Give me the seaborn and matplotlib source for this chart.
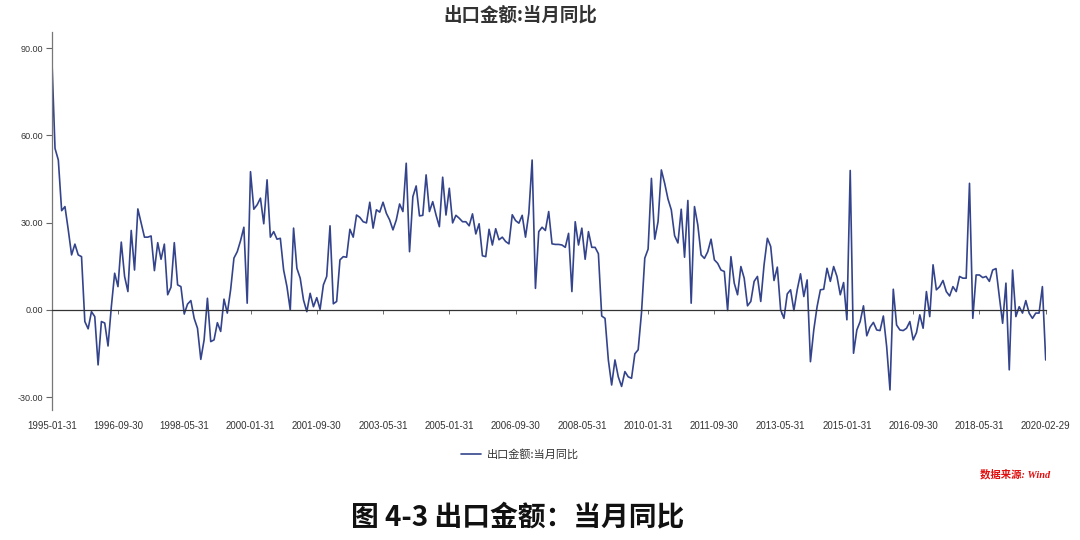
import numpy as np
import pandas as pd
import matplotlib
matplotlib.use("Agg")
import matplotlib.pyplot as plt
import seaborn as sns

# ---- data -------------------------------------------------------------
series_name = "出口金额:当月同比"
export_yoy = [
    88.0, 55.5, 51.5, 34.1, 35.5, 27.5, 18.9, 22.6, 18.9, 18.3, -4.0, -6.5,      # 1995
    -0.6, -2.3, -18.9, -4.0, -4.5, -12.4, 1.1, 12.6, 8.0, 23.3, 11.5, 6.3,      # 1996
    27.3, 13.7, 34.7, 29.9, 25.0, 25.0, 25.4, 13.5, 23.1, 17.4, 22.6, 5.2,      # 1997
    7.8, 23.1, 8.6, 8.0, -1.4, 2.0, 3.2, -2.9, -6.3, -17.0, -10.3, 4.0,        # 1998
    -10.9, -10.3, -4.4, -7.4, 3.7, -1.1, 6.9, 17.8, 20.0, 23.8, 28.4, 2.3,     # 1999
    47.5, 34.6, 36.1, 38.4, 29.6, 44.7, 25.0, 26.9, 24.3, 24.6, 13.7, 8.0,     # 2000
    0.0, 28.1, 14.3, 10.9, 3.4, -0.6, 5.7, 1.1, 4.2, 0.2, 8.6, 11.5,           # 2001
    28.9, 2.1, 2.9, 17.2, 18.3, 18.1, 27.7, 25.0, 32.6, 31.8, 30.3, 29.9,      # 2002
    37.0, 28.1, 34.4, 33.6, 37.0, 33.2, 30.9, 27.5, 30.9, 36.4, 33.8, 50.4,    # 2003
    20.0, 38.9, 42.6, 32.3, 32.5, 46.4, 33.8, 37.2, 32.6, 28.6, 45.6, 32.6,    # 2004
    41.8, 29.9, 32.5, 31.5, 30.3, 30.3, 28.9, 33.0, 26.1, 29.6, 18.6, 18.3,    # 2005
    27.7, 22.3, 27.9, 24.1, 25.0, 23.5, 22.7, 32.7, 30.7, 29.8, 32.5, 25.0,    # 2006
    33.2, 51.5, 7.4, 26.9, 28.4, 27.3, 33.8, 22.7, 22.5, 22.5, 22.3, 21.5,     # 2007
    26.3, 6.3, 30.3, 22.3, 28.1, 17.4, 26.9, 21.5, 21.5, 19.3, -2.1, -2.9,     # 2008
    -17.2, -25.8, -17.2, -23.0, -26.3, -21.2, -23.0, -23.5, -15.1, -13.7, -1.1, 17.8,  # 2009
    20.9, 45.2, 24.3, 30.3, 48.1, 43.5, 38.1, 34.4, 25.5, 23.0, 34.6, 18.1,    # 2010
    37.6, 2.3, 35.5, 29.2, 18.9, 17.7, 20.0, 24.3, 17.2, 16.0, 13.7, 13.2,     # 2011
    -0.2, 18.3, 9.2, 5.2, 14.9, 10.9, 1.4, 2.9, 9.8, 11.5, 2.9, 15.5,          # 2012
    24.6, 21.8, 10.1, 14.7, 0.0, -2.9, 5.5, 6.9, -0.2, 6.9, 12.4, 4.6,         # 2013
    10.3, -17.8, -6.9, 1.1, 6.9, 7.1, 14.3, 9.8, 14.9, 11.5, 5.2, 9.4,         # 2014
    -3.4, 47.9, -14.9, -6.9, -4.0, 1.4, -8.9, -5.9, -4.3, -6.9, -7.1, -2.1,    # 2015
    -12.6, -27.5, 7.1, -5.2, -6.9, -7.1, -6.3, -4.0, -10.3, -7.8, -1.7, -6.3,  # 2016
    6.3, -2.3, 15.5, 6.9, 8.0, 10.1, 6.3, 4.8, 8.0, 6.3, 11.5, 10.9,           # 2017
    10.9, 43.5, -2.9, 12.0, 12.0, 11.1, 11.5, 9.8, 13.7, 14.2, 4.6, -4.6,      # 2018
    9.2, -20.6, 13.7, -2.3, 1.1, -1.1, 3.2, -1.1, -2.9, -1.1, -1.1, 8.0,       # 2019
    -17.2,                                                                       # 2020-02
]
dates = list(pd.date_range("1995-01-31", "2019-12-31", freq="ME").strftime("%Y-%m-%d")) + ["2020-02-29"]
tick_labels = ["1995-01-31", "1996-09-30", "1998-05-31", "2000-01-31", "2001-09-30",
               "2003-05-31", "2005-01-31", "2006-09-30", "2008-05-31", "2010-01-31",
               "2011-09-30", "2013-05-31", "2015-01-31", "2016-09-30", "2018-05-31",
               "2020-02-29"]
y_ticks = [-30, 0, 30, 60, 90]

df = pd.DataFrame({"date": dates, "value": export_yoy})
df["idx"] = np.arange(len(df))

# ---- style ------------------------------------------------------------
sns.set_style("white")
plt.rcParams["font.family"] = ["Noto Sans CJK SC", "DejaVu Sans"]
label_font = ["Liberation Sans", "DejaVu Sans"]

W, H = 1080, 540
fig = plt.figure(figsize=(W / 100, H / 100), dpi=100)
ax_left, ax_right, ax_bottom, ax_top = 51.7, 1045.7, 410, 32
ax = fig.add_axes([ax_left / W, 1 - ax_bottom / H, (ax_right - ax_left) / W, (ax_bottom - ax_top) / H])

line_color = "#34448c"
sns.lineplot(data=df, x="idx", y="value", ax=ax, color=line_color, linewidth=1.2,
             label=series_name, legend=False)

ax.set_xlim(0, len(df) - 1)
ax.set_ylim(-34.4, 95.5)

# y axis
ax.set_yticks(y_ticks)
ax.set_yticklabels([f"{v:.2f}" for v in y_ticks], family=label_font)
ax.tick_params(axis="y", length=4, width=0.8, color="#666666", labelsize=6.5,
               labelcolor="#333333", pad=2, left=True)
for s in ["top", "right"]:
    ax.spines[s].set_visible(False)
ax.spines["left"].set_color("#777777")
ax.spines["left"].set_linewidth(0.9)

# x axis line on zero, tick labels at the bottom
ax.spines["bottom"].set_position(("data", 0))
ax.spines["bottom"].set_color("#333333")
ax.spines["bottom"].set_linewidth(0.9)
tick_pos = [dates.index(t) for t in tick_labels]
ax.set_xticks(tick_pos)
ax.tick_params(axis="x", length=3, width=0.6, color="#555555", direction="out",
               labelbottom=False, bottom=True)
sec = ax.secondary_xaxis(location=0)
sec.set_xticks(tick_pos)
sec.set_xticklabels(tick_labels, family=label_font)
sec.tick_params(axis="x", length=0, labelsize=7, labelcolor="#333333", pad=8)
sec.spines["bottom"].set_visible(False)
ax.set_xlabel("")
ax.set_ylabel("")
ax.grid(False)

# title
fig.text(520 / W, 1 - 15 / H, series_name, ha="center", va="center",
         fontsize=13.3, fontweight="bold", color="#333333")

# legend
handles, labels = ax.get_legend_handles_labels()
leg = fig.legend(handles, labels, loc="center", bbox_to_anchor=(520 / W, 1 - 454 / H),
                 frameon=False, fontsize=8, handlelength=1.8, handletextpad=0.5)
for t in leg.get_texts():
    t.set_color("#333333")

# source note
fig.text(1050 / W, 1 - 474 / H, "数据来源: Wind", ha="right", va="center",
         fontsize=7.5, color="#e01010", fontstyle="italic", fontweight="bold",
         family=["Liberation Serif", "Noto Sans CJK SC"])

# caption
fig.text(518 / W, 1 - 518 / H, "图 4-3 出口金额：当月同比", ha="center", va="center",
         fontsize=20, fontweight="bold", color="#111111")

fig.savefig("out.png", dpi=100, facecolor="white")
